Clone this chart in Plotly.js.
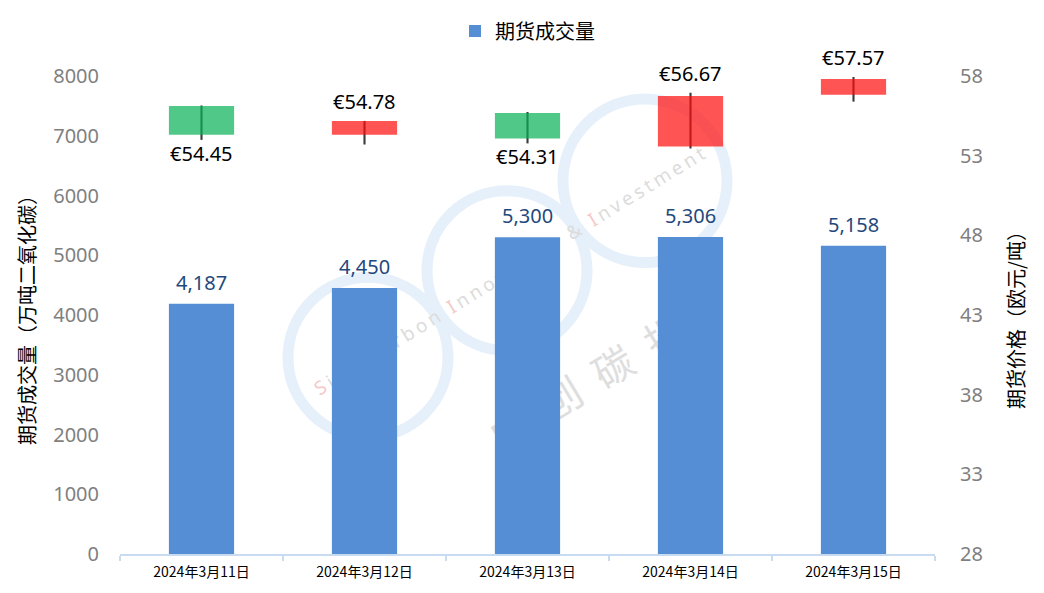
<!DOCTYPE html>
<html>
<head>
<meta charset="utf-8">
<script src="https://cdn.plot.ly/plotly-3.0.1.min.js"></script>
<style>html,body{margin:0;padding:0;background:#fff;}#chart{width:1044px;height:593px;}</style>
</head>
<body>
<div id="chart"></div>
<script>
// ---- data ----
const categories = ['2024年3月11日', '2024年3月12日', '2024年3月13日', '2024年3月14日', '2024年3月15日'];
const volume = [4187, 4450, 5300, 5306, 5158];
const priceOpen  = [56.12, 54.32, 55.68, 53.58, 56.83];
const priceClose = [54.32, 55.18, 54.07, 56.75, 57.81];
const priceHigh  = [56.15, 55.18, 55.74, 56.95, 57.94];
const priceLow   = [53.99, 53.70, 53.77, 53.45, 56.39];
const priceLabels = [54.45, 54.78, 54.31, 56.67, 57.57];
const volumeName = '期货成交量';
const leftTitle = '期货成交量（万吨二氧化碳）';
const rightTitle = '期货价格（欧元/吨）';

// ---- styles ----
const BAR_BLUE = '#558ed5';
const UP_COLOR = 'rgba(255,12,12,0.70)';
const DOWN_COLOR = 'rgba(5,176,84,0.70)';
const WICK_COLOR = '#3c3c3c';
const AXIS_LINE = '#c9dbf0';
const FONT = "'Noto Sans', 'Noto Sans CJK SC', sans-serif";
const CJK = "'Noto Sans CJK SC', sans-serif";

const isUp = priceOpen.map((o, i) => priceClose[i] >= o);

const traces = [
  {
    type: 'bar', name: volumeName, x: categories, y: volume, yaxis: 'y',
    width: 0.4, marker: {color: BAR_BLUE}, showlegend: true
  },
  {
    type: 'bar', x: categories, yaxis: 'y2',
    base: priceLow, y: priceHigh.map((h, i) => h - priceLow[i]),
    width: 0.013, marker: {color: WICK_COLOR}, showlegend: false, hoverinfo: 'skip'
  },
  {
    type: 'bar', x: categories, yaxis: 'y2',
    base: priceOpen, y: priceClose.map((c, i) => c - priceOpen[i]),
    width: 0.4, marker: {color: isUp.map(u => u ? UP_COLOR : DOWN_COLOR)}, showlegend: false
  }
];

const annotations = [];
categories.forEach((c, i) => {
  annotations.push({
    x: c, y: volume[i], xref: 'x', yref: 'y', text: volume[i].toLocaleString('en-US'),
    showarrow: false, yanchor: 'bottom', yshift: 6,
    font: {size: 20, color: '#1f497d', family: FONT}
  });
  const up = isUp[i];
  annotations.push({
    x: c, y: up ? priceHigh[i] : priceLow[i], xref: 'x', yref: 'y2',
    text: '€' + priceLabels[i].toFixed(2),
    showarrow: false, yanchor: up ? 'bottom' : 'top', yshift: up ? 4 : 2,
    font: {size: 20, color: '#000', family: FONT}
  });
});

// faint watermark (page-pixel coordinates inside plot area box 120..935 x 75..554)
const wm = `<svg xmlns="http://www.w3.org/2000/svg" width="815" height="479" viewBox="120 75 815 479" preserveAspectRatio="none">
<g fill="none" stroke="#e6f0fa" stroke-width="11">
<circle cx="368" cy="357" r="80"/>
<circle cx="507" cy="270" r="80"/>
<circle cx="645" cy="180" r="82"/>
</g>
<g transform="rotate(-31.7 510 271)">
<text x="510" y="277" text-anchor="middle" font-family="Noto Sans, sans-serif" font-size="19" textLength="455" lengthAdjust="spacing" fill="#dcdcdc"><tspan fill="#f6c9c9">S</tspan>ino Carbon <tspan fill="#f6c9c9">I</tspan>nnovation &amp; <tspan fill="#f6c9c9">I</tspan>nvestment</text>
</g>
<g transform="rotate(-31 588 383)">
<text x="588" y="397" text-anchor="middle" font-family="Noto Sans CJK SC, sans-serif" font-size="40" textLength="220" lengthAdjust="spacing" fill="#dedede">中创碳投</text>
</g>
</svg>`;

const layout = {
  width: 1044, height: 593,
  margin: {l: 120, r: 109, t: 75, b: 39, pad: 0},
  paper_bgcolor: '#fff', plot_bgcolor: 'rgba(0,0,0,0)',
  font: {family: FONT, color: '#000'},
  barmode: 'overlay',
  showlegend: true,
  legend: {
    orientation: 'h', x: 0.5, xanchor: 'center', y: 1.092, yanchor: 'middle',
    font: {size: 20, family: CJK, color: '#000'},
    bgcolor: 'rgba(0,0,0,0)'
  },
  xaxis: {
    type: 'category', showline: true, linecolor: AXIS_LINE, linewidth: 2,
    ticks: 'outside', tickson: 'boundaries', ticklen: 5, tickwidth: 2, tickcolor: AXIS_LINE,
    showgrid: false, zeroline: false, automargin: false,
    tickfont: {size: 14, color: '#000', family: CJK},
    ticklabelstandoff: 4
  },
  yaxis: {
    range: [0, 8000], dtick: 1000, tick0: 0, showgrid: false, zeroline: false, showline: false,
    ticks: '', automargin: false, ticklabelstandoff: 20,
    tickfont: {size: 20, color: '#7f7f7f', family: FONT},
    title: {text: leftTitle, font: {size: 20, color: '#000', family: CJK}, standoff: 12}
  },
  yaxis2: {
    range: [28, 58], dtick: 5, tick0: 28, overlaying: 'y', side: 'right',
    showgrid: false, zeroline: false, showline: false, ticks: '', automargin: false, ticklabelstandoff: 24,
    tickfont: {size: 20, color: '#7f7f7f', family: FONT},
    title: {text: rightTitle, font: {size: 20, color: '#000', family: CJK}, standoff: 28}
  },
  images: [{
    source: 'data:image/svg+xml;charset=utf-8,' + encodeURIComponent(wm),
    xref: 'paper', yref: 'paper', x: 0, y: 1, sizex: 1, sizey: 1,
    xanchor: 'left', yanchor: 'top', sizing: 'stretch', layer: 'below', opacity: 1
  }],
  annotations: annotations
};

Plotly.newPlot('chart', traces, layout, {displayModeBar: false, staticPlot: true});
</script>
</body>
</html>
